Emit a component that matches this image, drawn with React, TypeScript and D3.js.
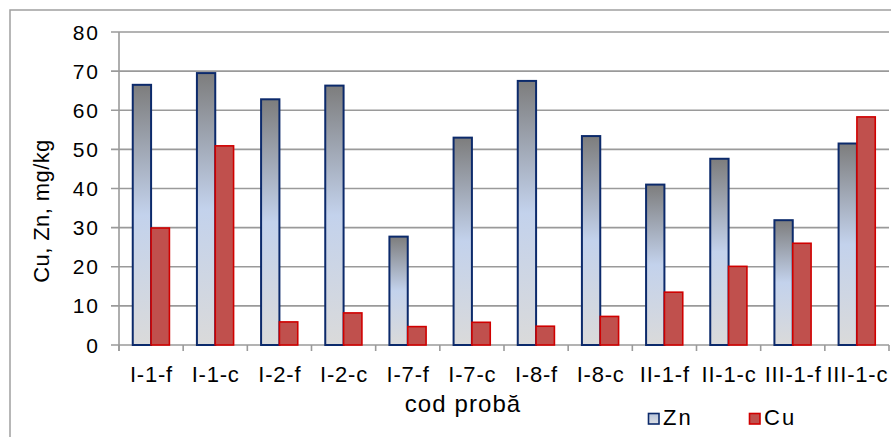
import React from "react";
import * as d3 from "d3";

const categories = ["I-1-f", "I-1-c", "I-2-f", "I-2-c", "I-7-f", "I-7-c", "I-8-f", "I-8-c", "II-1-f", "II-1-c", "III-1-f", "III-1-c"];
const znValues = [66.5, 69.5, 62.8, 66.3, 27.7, 53.0, 67.5, 53.4, 41.0, 47.6, 31.9, 51.5];
const cuValues = [29.9, 50.9, 5.9, 8.2, 4.7, 5.8, 4.8, 7.3, 13.5, 20.1, 26.0, 58.3];
const seriesNames = ["Zn", "Cu"];
const yTicks = [0, 10, 20, 30, 40, 50, 60, 70, 80];

const W = 891;
const H = 437;
const plot = { left: 119, right: 889, top: 32, bottom: 345 };
const FONT = "'Liberation Sans', Arial, sans-serif";

export default function App() {
  const x0 = d3.scaleBand<string>().domain(categories).range([plot.left, plot.right]).padding(0);
  const x1 = d3.scaleBand<string>().domain(seriesNames).range([0, x0.bandwidth()]).paddingInner(0).paddingOuter(0.75);
  const y = d3.scaleLinear().domain([0, 80]).range([plot.bottom, plot.top]);

  const gridColor = "#9a9a9a";

  return (
    <svg width={W} height={H} style={{ position: "absolute", left: 0, top: 0, background: "#fff" }}>
      <defs>
        <linearGradient id="znGrad" x1="0" y1="0" x2="0" y2="1">
          <stop offset="0%" stopColor="#7d7d7d" />
          <stop offset="50%" stopColor="#c3d2ec" />
          <stop offset="100%" stopColor="#dadada" />
        </linearGradient>
        <linearGradient id="znLeg" x1="0" y1="0" x2="0" y2="1">
          <stop offset="0%" stopColor="#b6c3da" />
          <stop offset="100%" stopColor="#dcdfe4" />
        </linearGradient>
      </defs>
      <rect x={0} y={0} width={W} height={H} fill="#fff" />
      {/* outer chart border */}
      <rect x={10} y={10} width={W + 20} height={H + 20} fill="none" stroke="#a0a0a0" strokeWidth={1.5} />

      {/* gridlines */}
      {yTicks.map((t) => (
        <line key={"g" + t} x1={plot.left - 8} x2={plot.right} y1={y(t)} y2={y(t)} stroke={gridColor} strokeWidth={1.6} />
      ))}
      {/* y axis */}
      <line x1={plot.left} x2={plot.left} y1={plot.top} y2={plot.bottom + 6} stroke={gridColor} strokeWidth={1.6} />
      {/* x ticks */}
      {categories.map((c) => (
        <line key={"xt" + c} x1={x0(c)!} x2={x0(c)!} y1={plot.bottom} y2={plot.bottom + 6} stroke={gridColor} strokeWidth={1.6} />
      ))}
      <line x1={plot.right} x2={plot.right} y1={plot.bottom} y2={plot.bottom + 6} stroke={gridColor} strokeWidth={1.6} />

      {/* y tick labels */}
      {yTicks.map((t) => (
        <text key={"yl" + t} x={100} y={y(t) + 7.5} textAnchor="end" fontFamily={FONT} fontSize={21} letterSpacing={2} fill="#000">
          {t}
        </text>
      ))}

      {/* bars */}
      {categories.map((c, i) => {
        const zx = x0(c)! + x1("Zn")!;
        const cx = x0(c)! + x1("Cu")!;
        const bw = x1.bandwidth();
        return (
          <g key={"b" + c}>
            <rect x={zx} y={y(znValues[i])} width={bw} height={plot.bottom - y(znValues[i])} fill="url(#znGrad)" stroke="#0c2a6b" strokeWidth={2} />
            <rect x={cx} y={y(cuValues[i])} width={bw} height={plot.bottom - y(cuValues[i])} fill="#c0504d" stroke="#d00000" strokeWidth={1.6} />
          </g>
        );
      })}

      {/* category labels */}
      {categories.map((c) => (
        <text key={"cl" + c} x={x0(c)! + x0.bandwidth() / 2 + 0.4} y={381.5} textAnchor="middle" fontFamily={FONT} fontSize={22} letterSpacing={0.8} fill="#000">
          {c}
        </text>
      ))}

      {/* axis titles */}
      <text x={463} y={412} textAnchor="middle" fontFamily={FONT} fontSize={24} letterSpacing={1.1} fill="#000">
        cod probă
      </text>
      <text transform="translate(49,211) rotate(-90)" textAnchor="middle" fontFamily={FONT} fontSize={22} letterSpacing={0.4} fill="#000">
        Cu, Zn, mg/kg
      </text>

      {/* legend */}
      <rect x={648.5} y={413.5} width={10.5} height={10.5} fill="url(#znLeg)" stroke="#0c2a6b" strokeWidth={1.6} />
      <text x={663} y={425} fontFamily={FONT} fontSize={22} letterSpacing={2} fill="#000">Zn</text>
      <rect x={749.5} y={413.5} width={10.5} height={10.5} fill="#c0504d" stroke="#d00000" strokeWidth={1.6} />
      <text x={764} y={425} fontFamily={FONT} fontSize={22} letterSpacing={2} fill="#000">Cu</text>
    </svg>
  );
}
